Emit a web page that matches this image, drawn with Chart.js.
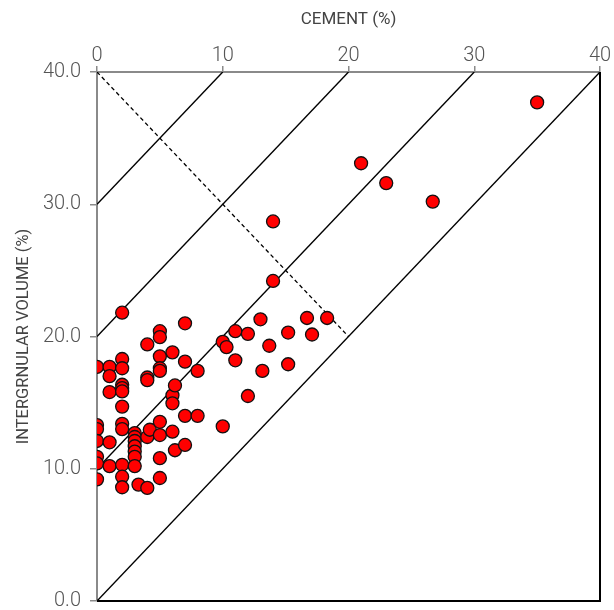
<!DOCTYPE html>
<html>
<head>
<meta charset="utf-8">
<script src="https://cdn.jsdelivr.net/npm/chart.js@4.4.1/dist/chart.umd.min.js"></script>
<style>
  html, body { margin: 0; padding: 0; background: #fff; }
  #wrap { width: 614px; height: 610px; }
</style>
</head>
<body>
<div id="wrap"><canvas id="myChart"></canvas></div>
<script>
// cement (%) vs intergranular volume (%)
const cement = [
  0, 0, 0, 0, 0, 0, 0,
  1, 1, 1, 1, 1,
  2, 2, 2, 2, 2, 2, 2, 2, 2, 2, 2, 2,
  3, 3, 3, 3, 3, 3, 3, 3.3,
  4, 4, 4, 4, 4, 4.2,
  5, 5, 5, 5, 5, 5, 5, 5, 5,
  6, 6, 6, 6, 6.2, 6.2,
  7, 7, 7, 7,
  8, 8,
  10, 10, 10.3,
  11, 11,
  12, 12,
  13, 13.15, 13.7,
  14, 14,
  15.2, 15.2,
  16.7, 17.1, 18.3,
  21, 23, 26.7, 35
];
const igv = [
  17.7, 13.3, 13.0, 12.1, 10.9, 10.4, 9.2,
  17.7, 17.0, 15.8, 12.0, 10.2,
  21.8, 18.3, 17.6, 16.35, 16.1, 15.85, 14.7, 13.4, 13.0, 10.3, 9.4, 8.6,
  12.7, 12.4, 12.1, 11.7, 11.3, 10.9, 10.2, 8.8,
  19.4, 16.9, 16.7, 12.4, 8.55, 12.95,
  20.4, 19.95, 18.5, 17.6, 17.4, 13.55, 12.55, 10.8, 9.3,
  18.8, 15.55, 14.95, 12.8, 16.3, 11.4,
  21.0, 18.1, 14.0, 11.8,
  17.4, 14.0,
  19.6, 13.2, 19.2,
  20.4, 18.2,
  20.2, 15.5,
  21.3, 17.4, 19.3,
  28.7, 24.2,
  20.3, 17.9,
  21.4, 20.15, 21.4,
  33.1, 31.6, 30.2, 37.7
];

const xTicks = [0, 10, 20, 30, 40];
const yTicks = [0, 10, 20, 30, 40];
// solid guide lines: IGV = cement + offset
const guideOffsets = [0, 10, 20, 30];
// dashed line from (0,40) to (20,20)
const dashX = [0, 20];
const dashY = [40, 20];

const points = cement.map((c, i) => ({ x: c, y: igv[i] }));

const datasets = [{
  label: 'samples',
  data: points,
  backgroundColor: '#ff0000',
  borderColor: '#111',
  borderWidth: 1.3,
  pointRadius: 6.5,
  pointHoverRadius: 6.5
}];

guideOffsets.forEach(off => {
  datasets.push({
    data: [{ x: 0, y: off }, { x: 40 - off, y: 40 }],
    showLine: true,
    borderColor: '#000',
    borderWidth: 1.4,
    pointRadius: 0
  });
});

datasets.push({
  data: dashX.map((x, i) => ({ x: x, y: dashY[i] })),
  showLine: true,
  borderColor: '#000',
  borderWidth: 1.3,
  borderDash: [4, 3],
  pointRadius: 0
});

// black right and bottom frame edges
const frame = {
  id: 'frame',
  afterDatasetsDraw(chart) {
    const { ctx, chartArea: a } = chart;
    ctx.save();
    ctx.strokeStyle = '#000';
    ctx.lineWidth = 2;
    ctx.beginPath();
    ctx.moveTo(a.left, a.bottom);
    ctx.lineTo(a.right, a.bottom);
    ctx.lineTo(a.right, a.top);
    ctx.stroke();
    ctx.restore();
  }
};

const tickFont = { family: 'Roboto', size: 20, weight: '300' };

new Chart(document.getElementById('myChart'), {
  type: 'scatter',
  data: { datasets: datasets },
  options: {
    responsive: true,
    maintainAspectRatio: false,
    animation: false,
    layout: { padding: { left: 0, top: 0, right: 14, bottom: 9 } },
    plugins: { legend: { display: false }, tooltip: { enabled: false } },
    scales: {
      x: {
        type: 'linear',
        position: 'top',
        min: 0,
        max: 40,
        afterBuildTicks: s => { s.ticks = xTicks.map(v => ({ value: v })); },
        afterFit: s => { s.height = 72; s.paddingLeft = 0; s.paddingRight = 0; },
        ticks: { color: '#555', font: tickFont, padding: -2 },
        grid: { drawOnChartArea: false, color: '#8a8a8a', lineWidth: 1.5, tickLength: 6 },
        border: { color: '#8a8a8a', width: 2 },
        title: { display: true, text: 'CEMENT (%)', color: '#444', font: { family: 'Roboto', size: 17, weight: '400' }, padding: { top: 10, bottom: 0 } }
      },
      y: {
        type: 'linear',
        position: 'left',
        min: 0,
        max: 40,
        afterBuildTicks: s => { s.ticks = yTicks.map(v => ({ value: v })); },
        afterFit: s => { s.width = 97; s.paddingTop = 0; s.paddingBottom = 0; },
        ticks: { color: '#555', font: tickFont, padding: 9, callback: v => v.toFixed(1) },
        grid: { drawOnChartArea: false, color: '#8a8a8a', lineWidth: 1.5, tickLength: 7 },
        border: { color: '#8a8a8a', width: 2 },
        title: { display: true, text: 'INTERGRNULAR VOLUME (%)', color: '#444', font: { family: 'Roboto', size: 16.5, weight: '400' }, padding: { top: 14, bottom: 0 } }
      }
    }
  },
  plugins: [frame]
});
</script>
</body>
</html>
